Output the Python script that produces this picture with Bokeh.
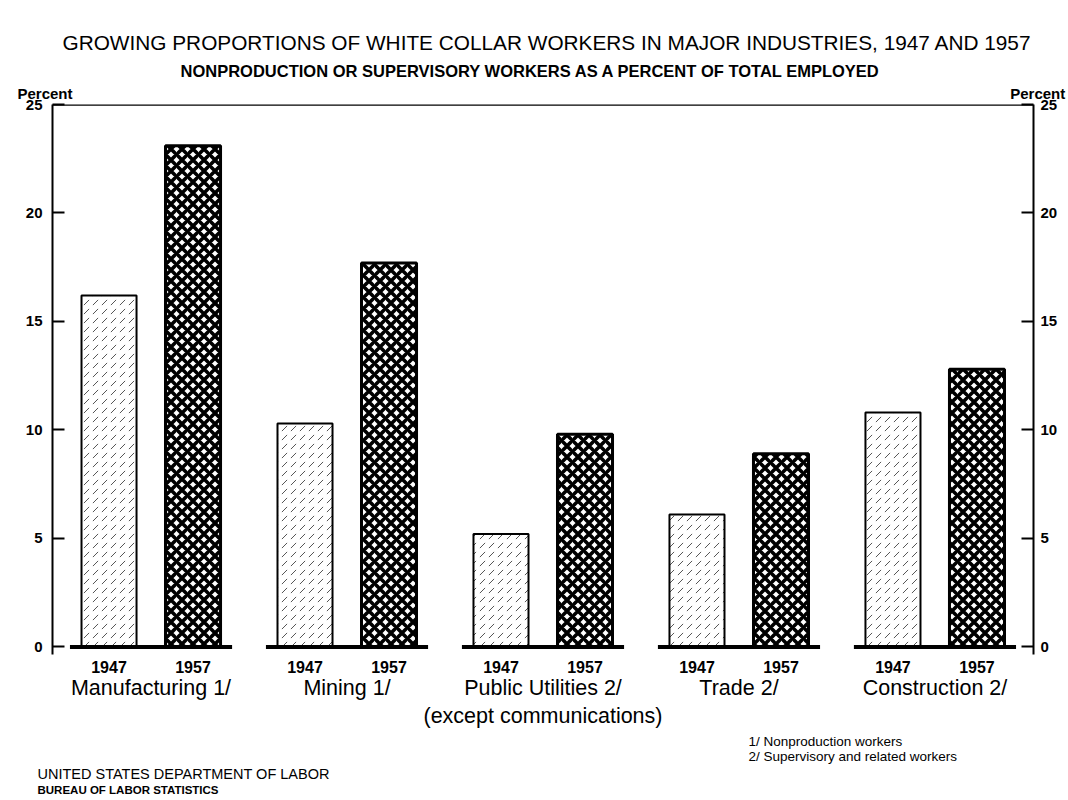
from bokeh.plotting import figure
from bokeh.models import FactorRange, Range1d, LinearAxis, Span, FixedTicker, ColumnDataSource, Title
from bokeh.embed import file_html
from bokeh.resources import INLINE

# ---- data ----
industry_labels = ["Manufacturing 1/", "Mining 1/", "Public Utilities 2/\n(except communications)",
                   "Trade 2/", "Construction 2/"]
years = ["1947", "1957"]
pct_1947 = [16.2, 10.3, 5.2, 6.1, 10.8]
pct_1957 = [23.1, 17.7, 9.8, 8.9, 12.8]
y_ticks = [0, 5, 10, 15, 20, 25]

title_text = "GROWING PROPORTIONS OF WHITE COLLAR WORKERS IN MAJOR INDUSTRIES, 1947 AND 1957"
subtitle_text = "NONPRODUCTION OR SUPERVISORY WORKERS AS A PERCENT OF TOTAL EMPLOYED"
footnotes = "1/  Nonproduction workers\n2/  Supervisory and related workers"
agency_1 = "UNITED STATES DEPARTMENT OF LABOR"
agency_2 = "BUREAU OF LABOR STATISTICS"
axis_unit = "Percent"

FONT = "Liberation Sans"
NBSP = "\u00a0"

factors = [(ind, yr) for ind in industry_labels for yr in years]

p = figure(
    x_range=FactorRange(*factors, factor_padding=0.0, group_padding=0.333,
                        range_padding=0.0305, range_padding_units="percent"),
    y_range=Range1d(-0.35, 25),
    width=1066, height=800,
    output_backend="svg", toolbar_location=None,
    min_border_left=52, min_border_right=33, min_border_top=104, min_border_bottom=146,
)
p.title = None
p.grid.visible = False
p.outline_line_color = None
p.background_fill_color = "white"
p.border_fill_color = "white"

# bars
src47 = ColumnDataSource(dict(x=[(ind, years[0]) for ind in industry_labels], top=pct_1947))
src57 = ColumnDataSource(dict(x=[(ind, years[1]) for ind in industry_labels], top=pct_1957))
p.vbar(x="x", top="top", bottom=0, width=0.655, source=src47,
       fill_color="white", line_color="black", line_width=2,
       hatch_pattern=",", hatch_color="#555555", hatch_scale=9, hatch_weight=1.0)
p.vbar(x="x", top="top", bottom=0, width=0.655, source=src57,
       fill_color="white", line_color="black", line_width=3,
       hatch_pattern="x", hatch_color="black", hatch_scale=11, hatch_weight=3.6)

# group base lines
p.rect(x=industry_labels, y=[0] * len(industry_labels), width=1.93, height=4,
       height_units="screen", fill_color="black", line_color=None)

# top frame line
p.add_layout(Span(location=25, dimension="width", line_color="black", line_width=2.5))

# bottom categorical axis
xa = p.xaxis[0]
xa.axis_line_color = None
xa.major_tick_line_color = None
xa.minor_tick_line_color = None
xa.major_label_standoff = 0
xa.major_label_text_font = FONT
xa.major_label_text_font_style = "bold"
xa.major_label_text_font_size = "16px"
xa.major_label_text_color = "black"
xa.group_text_font = FONT
xa.group_text_font_size = "21.5px"
xa.group_text_font_style = "normal"
xa.group_text_color = "black"
xa.separator_line_color = None

# left and right axes
ya = p.yaxis[0]
ya.ticker = FixedTicker(ticks=y_ticks)
ra = LinearAxis(ticker=FixedTicker(ticks=y_ticks))
p.add_layout(ra, "right")
for ax in [ya, ra]:
    ax.axis_line_width = 2
    ax.axis_line_color = "black"
    ax.major_tick_in = 12
    ax.major_tick_out = 0
    ax.major_tick_line_width = 2
    ax.minor_tick_line_color = None
    ax.major_label_text_font = FONT
    ax.major_label_text_font_style = "bold"
    ax.major_label_text_font_size = "15px"
    ax.major_label_text_color = "black"
ya.major_label_standoff = 10
ra.major_label_standoff = 7

# titles above (first added = closest to the frame)
p.add_layout(Title(text=axis_unit + NBSP * 225 + axis_unit, align="left", offset=-35, standoff=6,
                   text_font=FONT, text_font_size="15px", text_font_style="bold",
                   text_color="black"), "above")
p.add_layout(Title(text=subtitle_text, align="left", offset=128, standoff=0,
                   text_font=FONT, text_font_size="16.5px", text_font_style="bold",
                   text_color="black"), "above")
p.add_layout(Title(text=title_text, align="left", offset=10, standoff=12,
                   text_font=FONT, text_font_size="20.8px", text_font_style="normal",
                   text_color="black"), "above")

# notes below (first added = closest to the axis)
p.add_layout(Title(text=footnotes, align="left", offset=696, standoff=0,
                   text_font=FONT, text_font_size="13.5px", text_font_style="normal",
                   text_color="black"), "below")
p.add_layout(Title(text=agency_1, align="left", offset=-15, standoff=0,
                   text_font=FONT, text_font_size="14.5px", text_font_style="normal",
                   text_color="black"), "below")
p.add_layout(Title(text=agency_2, align="left", offset=-15, standoff=0,
                   text_font=FONT, text_font_size="11.5px", text_font_style="bold",
                   text_color="black"), "below")

open("out.html", "w").write(file_html(p, INLINE))
